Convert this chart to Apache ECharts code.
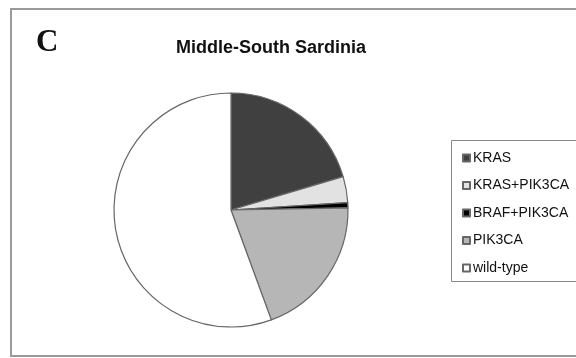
<!DOCTYPE html>
<html><head><meta charset="utf-8">
<script src="https://cdn.jsdelivr.net/npm/echarts@6/dist/echarts.min.js"></script>
<style>html,body{margin:0;padding:0;background:#fff}#c{width:576px;height:358px}</style>
</head><body><div id="c"></div>
<script>
const categories = ['KRAS', 'KRAS+PIK3CA', 'BRAF+PIK3CA', 'PIK3CA', 'wild-type'];
const values = [20.4, 3.6, 0.7, 19.7, 55.6];
const colors = ['#404040', '#e2e2e2', '#000000', '#b6b6b6', '#ffffff'];
const chart = echarts.init(document.getElementById('c'));
chart.setOption({
  animation: false,
  backgroundColor: '#fff',
  title: {
    text: 'Middle-South Sardinia', left: 171, top: 34,
    textStyle: {fontFamily: 'Liberation Sans, Arial', fontSize: 18, fontWeight: 'bold', color: '#111'}
  },
  graphic: [
    {type: 'rect', shape: {x: 11, y: 9, width: 570, height: 347}, style: {fill: 'none', stroke: '#9a9a9a', lineWidth: 2}, z: 0},
    {type: 'rect', shape: {x: 451.5, y: 140.5, width: 130, height: 141}, style: {fill: '#fff', stroke: '#8a8a8a', lineWidth: 1}, z: 0},
    {type: 'text', left: 36, top: 27, style: {text: 'C', font: 'bold 31px "Liberation Serif", "DejaVu Serif", serif', fill: '#111'}, z: 5}
  ],
  legend: {
    orient: 'vertical', left: 457, top: 146,
    itemWidth: 7, itemHeight: 7, itemGap: 13.5,
    icon: 'rect',
    textStyle: {fontFamily: 'Liberation Sans, Arial', fontSize: 14, color: '#111', padding: [0,0,0,-2]},
    data: categories
  },
  series: [{
    type: 'pie', center: [231, 210], radius: 117, startAngle: 90, clockwise: true,
    label: {show: false}, labelLine: {show: false},
    emphasis: {disabled: true},
    itemStyle: {borderColor: '#666', borderWidth: 1.2},
    data: categories.map((n, i) => ({name: n, value: values[i], itemStyle: {color: colors[i]}}))
  }]
});
</script></body></html>
